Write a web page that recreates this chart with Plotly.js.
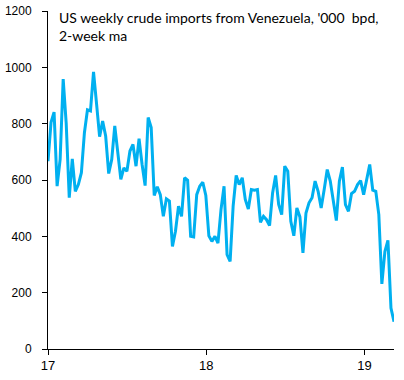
<!DOCTYPE html>
<html>
<head>
<meta charset="utf-8">
<script src="https://cdn.plot.ly/plotly-3.0.1.min.js"></script>
<style>html,body{margin:0;padding:0;background:#fff;}#chart{width:404px;height:380px;}</style>
</head>
<body>
<div id="chart"></div>
<script>
// Weekly series start date (one point per week)
var startDate = '2017-01-01';
// US weekly crude imports from Venezuela, '000 bpd, 2-week moving average
var imports = [
  667, 805, 841, 578, 673, 958, 800, 537, 675, 560,
  584, 626, 768, 849, 845, 984, 870, 754, 809, 756,
  623, 673, 792, 700, 602, 643, 631, 703, 726, 649,
  747, 655, 580, 822, 786, 545, 576, 548, 471, 533,
  525, 364, 418, 507, 471, 608, 599, 400, 398, 548,
  578, 592, 545, 402, 382, 400, 376, 495, 578, 335,
  311, 507, 616, 584, 608, 531, 497, 566, 564, 566,
  450, 471, 459, 438, 554, 616, 513, 477, 649, 631,
  453, 402, 501, 469, 341, 483, 519, 537, 596, 560,
  501, 566, 637, 596, 519, 456, 596, 646, 513, 489,
  552, 560, 584, 598, 548, 602, 655, 564, 560, 477,
  231, 346, 386, 145, 97
];
var yTicks = [0, 200, 400, 600, 800, 1000, 1200];
var xTickVals = ['2017-01-01', '2018-01-01', '2019-01-01'];
var xTickText = ['17', '18', '19'];
var chartTitle = "US weekly crude imports from Venezuela, '000  bpd,<br>2-week ma";

var dates = imports.map(function (_, i) {
  var d = new Date(startDate + 'T00:00:00Z');
  d.setUTCDate(d.getUTCDate() + 7 * i);
  return d.toISOString().slice(0, 10);
});

var font = {family: 'Liberation Sans, Arial, sans-serif', size: 12, color: '#000'};

Plotly.newPlot('chart', [{
  x: dates, y: imports, type: 'scatter', mode: 'lines',
  line: {color: '#00B0F0', width: 3}, hoverinfo: 'skip'
}], {
  width: 404, height: 380,
  margin: {l: 48, r: 10, t: 11, b: 31},
  paper_bgcolor: '#fff', plot_bgcolor: '#fff',
  font: font, showlegend: false,
  xaxis: {
    type: 'date', range: ['2017-01-01', '2019-03-10'],
    tickvals: xTickVals, ticktext: xTickText,
    showgrid: false, zeroline: false,
    showline: true, linecolor: '#000', linewidth: 1,
    ticks: 'outside', ticklen: 5, tickcolor: '#000', tickwidth: 1,
    ticklabelstandoff: -1,
    tickfont: {family: 'Liberation Sans, Arial, sans-serif', size: 13, color: '#000'}
  },
  yaxis: {
    range: [0, 1200], tickvals: yTicks,
    showgrid: false, zeroline: false,
    showline: true, linecolor: '#000', linewidth: 1,
    ticks: 'outside', ticklen: 5, tickcolor: '#000', tickwidth: 1,
    ticklabelstandoff: 8,
    tickfont: font
  },
  annotations: [{
    text: chartTitle, xref: 'paper', yref: 'paper', x: 0.025, y: 1.012,
    xanchor: 'left', yanchor: 'top', align: 'left', showarrow: false,
    font: {family: 'Lato, Liberation Sans, sans-serif', size: 14, color: '#000'}
  }]
}, {displayModeBar: false, staticPlot: true});
</script>
</body>
</html>
